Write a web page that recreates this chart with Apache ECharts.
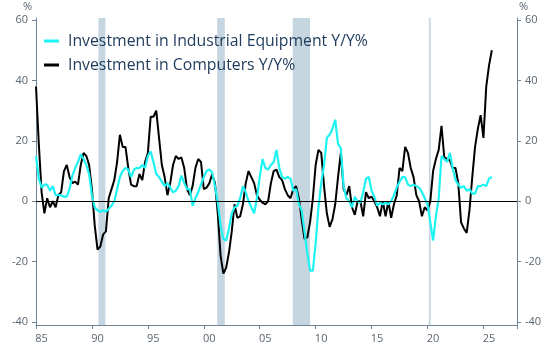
<!DOCTYPE html>
<html><head><meta charset="utf-8">
<script src="https://cdn.jsdelivr.net/npm/echarts@6/dist/echarts.min.js"></script>
<style>html,body{margin:0;padding:0;background:#fff}#c{width:553px;height:358px}</style>
</head><body><div id="c"></div>
<script>
// Quarterly observations starting 1985 Q1
const startYear = 1985;
const seriesNames = ['Investment in Industrial Equipment Y/Y%', 'Investment in Computers Y/Y%'];
const equipment = [
 15,7.5,4.5,5.5,5.5,3.5,5,2,2,2,1.5,1.5,4,8.5,11,13,15.5,14,12,9,
 2,-2,-3,-3.5,-3,-3.5,-2.5,-1.5,0,4,8,10,11,10.5,8,10.5,11,11,12,11,
 15,16.5,13,9,8,6.5,5,6,4.5,3,3.5,5,8.5,6,4,4,-1.5,1,3,5.5,
 8,10,10.5,9.5,5,-0.5,-8,-12.5,-13,-9,-4,-2,-1.5,1,5,3,0,-2,-4,1,
 8,14,11,10.5,12,13,17,11,8,7.5,8,7.5,3.5,4,-1,-3,-10,-17,-23,-23,
 -14,-2,6,12,21,22,24,27,19,17.5,5,1,0,-2,1.5,0,-0.5,3,7.5,8,
 3.5,1.5,-1.5,-0.5,-1,-0.5,-1,0,2,4.5,6.5,8,8,5.5,5,5.5,5,4.5,3,1,
 -1,-7,-13,-5,1,15,14,13,16,11,7,5.5,4.5,5,3.5,4,2.5,2.5,5,5,
 5.5,5,7.5,8
];
const computers = [
 38,19,3,-4,1,-2,0,-2,2,3,10,12,8,6,6.5,5.5,12,16,15,12,
 4,-8,-16,-15,-11,-10,1,4,7,13,22,18,18,11,5.5,5,5,9,7,13,
 16,28,28,30,21,12,8,2,6,12,15,14,14.5,11,4,2,5,11,14,13,
 4,4.5,6,9,6,-4,-18,-24,-22,-17,-10,-1,-5.5,-5,-1,6,10,8,6,2,
 0.5,-0.5,-1,0,6,10,10.5,8,7,4,2,1,4,5,1,-6,-12.5,-12,-7,1,
 12,17,16,5,-4,-8.5,-6,-1,8,16,4,2,5,-2,-4.5,0,0,-5,3,1,
 1.5,0,-2,-5,0,-5,0,-5.5,-1,2,11,10,18,16,11,8,2,0,-5,-2,
 -3,0,10,14,17,25,14.5,14,13.5,11,11,6,-7,-9,-10.5,-3,8,18,24,28.5,
 21,38,45,50
];
const yTicks = [-40, -20, 0, 20, 40, 60];
const recessions = [[1990.58, 1991.2], [2001.2, 2001.88], [2007.95, 2009.5], [2020.12, 2020.28]];

const toPairs = arr => arr.map((v, i) => [startYear + i / 4, v]);

const axisColor = '#6f8396';
const labelColor = '#5a6570';
const font = 'Open Sans';

function yAxisDef(pos) {
  return {
    type: 'value', position: pos, min: -41, max: 60.7,
    axisLine: { show: true, lineStyle: { color: axisColor, width: 1 } },
    axisTick: { show: true, inside: false, length: 4, customValues: yTicks, lineStyle: { color: axisColor } },
    axisLabel: { customValues: yTicks, color: labelColor, fontFamily: font, fontSize: 11, margin: 8 },
    splitLine: { show: false }
  };
}

const chart = echarts.init(document.getElementById('c'), null, { renderer: 'canvas' });
chart.setOption({
  animation: false,
  backgroundColor: '#fff',
  grid: { left: 36, right: 36, top: 18, bottom: 33, containLabel: false },
  legend: {
    data: seriesNames,
    orient: 'vertical', left: 44, top: 33, itemGap: 8, padding: 0,
    icon: 'rect', itemWidth: 15, itemHeight: 3,
    textStyle: { color: '#1d3a5a', fontFamily: font, fontSize: 15.8, padding: [0, 0, 0, 4] }
  },
  xAxis: {
    type: 'value', min: 1985, max: 2028, interval: 5,
    axisLine: { onZero: false, lineStyle: { color: axisColor } },
    axisTick: { length: 4, lineStyle: { color: axisColor } },
    axisLabel: {
      color: labelColor, fontFamily: font, fontSize: 11, margin: 8,
      padding: [0, 0, 0, 11],
      formatter: v => (v >= 2026 ? '' : String(v % 100).padStart(2, '0'))
    },
    splitLine: { show: false }
  },
  yAxis: [yAxisDef('left'), yAxisDef('right')],
  graphic: [
    { type: 'text', left: 23, top: 1, style: { text: '%', fill: labelColor, font: '11px "Open Sans"' } },
    { type: 'text', left: 519, top: 1, style: { text: '%', fill: labelColor, font: '11px "Open Sans"' } }
  ],
  series: [
    {
      name: 'bands', type: 'line', data: [], z: 1, silent: true,
      markArea: {
        silent: true,
        itemStyle: { color: '#c6d6e1' },
        data: recessions.map(r => [{ xAxis: r[0] }, { xAxis: r[1] }])
      },
      markLine: {
        silent: true, symbol: 'none', label: { show: false },
        lineStyle: { color: '#000', width: 1, type: 'solid' },
        data: [{ yAxis: 0 }]
      }
    },
    {
      name: seriesNames[1], type: 'line', data: toPairs(computers), z: 3,
      showSymbol: false, symbol: 'none',
      lineStyle: { color: '#000000', width: 2 }, itemStyle: { color: '#000000' }
    },
    {
      name: seriesNames[0], type: 'line', data: toPairs(equipment), z: 4,
      showSymbol: false, symbol: 'none',
      lineStyle: { color: '#1ef2f2', width: 2.2 }, itemStyle: { color: '#1ef2f2' }
    }
  ]
});
</script></body></html>
